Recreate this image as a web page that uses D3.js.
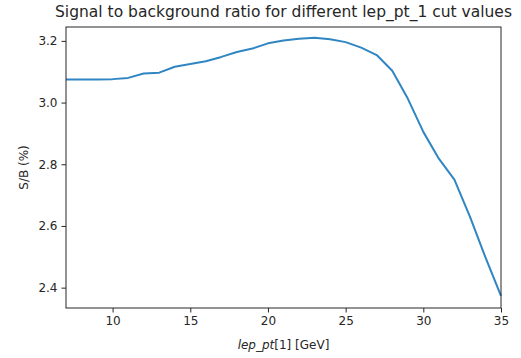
<!DOCTYPE html>
<html>
<head>
<meta charset="utf-8">
<script src="https://cdn.jsdelivr.net/npm/d3@7"></script>
<style>
body { margin: 0; background: #fff; }
text { font-family: "DejaVu Sans", sans-serif; fill: #262626; }
</style>
</head>
<body>
<script>
const width = 521;
const height = 358;

// cut values on lep_pt[1] (GeV)
const cuts = [7, 8, 9, 10, 11, 12, 13, 14, 15, 16, 17, 18, 19, 20, 21,
              22, 23, 24, 25, 26, 27, 28, 29, 30, 31, 32, 33, 34, 35];
// signal / background ratio (%)
const ratio = [3.075, 3.075, 3.075, 3.076, 3.080, 3.094, 3.097, 3.116, 3.125, 3.134,
               3.148, 3.164, 3.175, 3.192, 3.201, 3.207, 3.210, 3.205, 3.196, 3.178,
               3.154, 3.103, 3.013, 2.905, 2.818, 2.750, 2.630, 2.498, 2.373];
const xTicks = [10, 15, 20, 25, 30, 35];
const yTicks = [2.4, 2.6, 2.8, 3.0, 3.2];

const margin = {left: 66, right: 20, top: 27, bottom: 50};

const svg = d3.select('body').append('svg').attr('width', width).attr('height', height);

const x = d3.scaleLinear().domain([7, 35]).range([margin.left, width - margin.right]);
const y = d3.scaleLinear().domain([2.334, 3.245]).range([height - margin.bottom, margin.top]);

const g = svg.append('g');

// axes
const xAxis = g.append('g')
    .attr('transform', `translate(0,${height - margin.bottom})`)
    .call(d3.axisBottom(x).tickValues(xTicks).tickSize(4.5).tickPadding(4).tickFormat(d3.format('d')));
const yAxis = g.append('g')
    .attr('transform', `translate(${margin.left},0)`)
    .call(d3.axisLeft(y).tickValues(yTicks).tickSize(4.5).tickPadding(4).tickFormat(d3.format('.1f')));

[xAxis, yAxis].forEach(a => {
    a.select('.domain').remove();
    a.selectAll('.tick line').attr('stroke', '#262626').attr('stroke-width', 1);
    a.selectAll('.tick text').attr('font-size', 12).attr('fill', '#262626');
});

// line
const line = d3.line().x((d, i) => x(cuts[i])).y(d => y(d));
g.append('path')
    .datum(ratio)
    .attr('d', line)
    .attr('fill', 'none')
    .attr('stroke', '#2f86c3')
    .attr('stroke-width', 2)
    .attr('stroke-linejoin', 'round');

// frame
g.append('rect')
    .attr('x', margin.left)
    .attr('y', margin.top)
    .attr('width', width - margin.right - margin.left)
    .attr('height', height - margin.bottom - margin.top)
    .attr('fill', 'none')
    .attr('stroke', '#262626')
    .attr('stroke-width', 1);

// title
svg.append('text')
    .attr('x', (margin.left + width - margin.right) / 2)
    .attr('y', 17)
    .attr('text-anchor', 'middle')
    .attr('font-size', 15.5)
    .text('Signal to background ratio for different lep_pt_1 cut values');

// x label
const xl = svg.append('text')
    .attr('x', (margin.left + width - margin.right) / 2)
    .attr('y', 349)
    .attr('text-anchor', 'middle')
    .attr('font-size', 12);
xl.append('tspan').attr('font-style', 'italic').text('lep_pt');
xl.append('tspan').text('[1] [GeV]');

// y label
svg.append('text')
    .attr('transform', `translate(28,${(margin.top + height - margin.bottom) / 2}) rotate(-90)`)
    .attr('text-anchor', 'middle')
    .attr('font-size', 12)
    .text('S/B (%)');
</script>
</body>
</html>
